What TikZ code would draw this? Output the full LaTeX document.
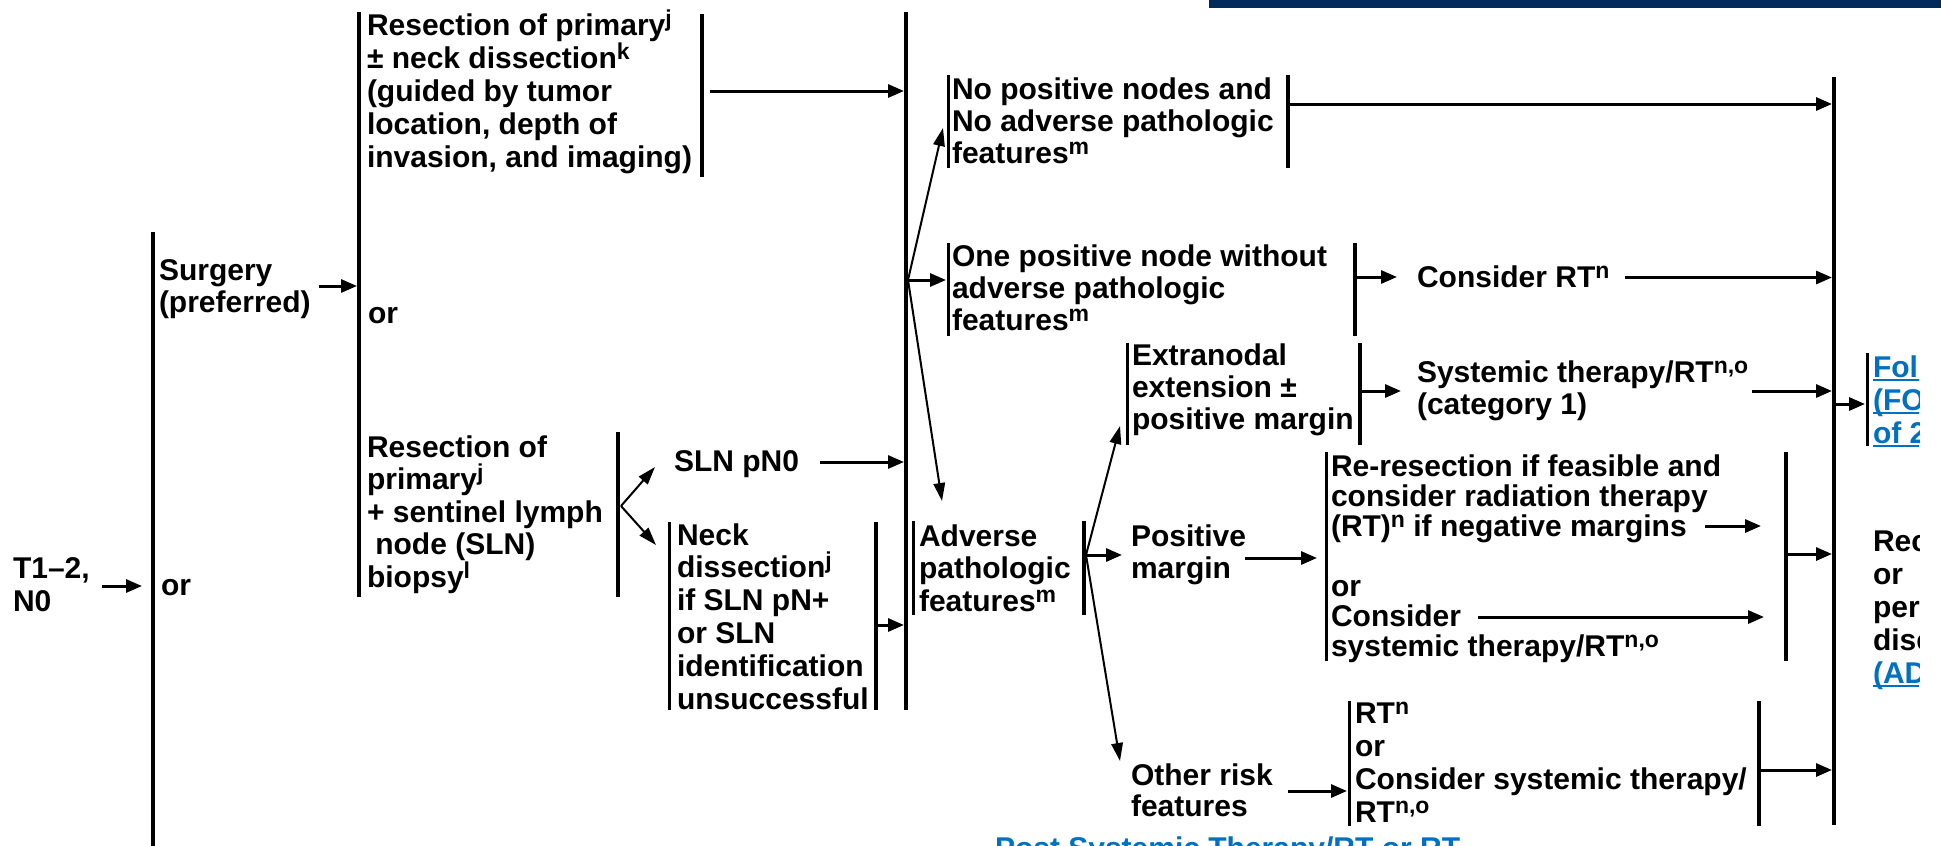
\documentclass[tikz,border=0pt]{standalone}
\usepackage{fontspec}
\setmainfont{Liberation Sans}
\usetikzlibrary{arrows.meta}
\definecolor{navy}{RGB}{0,42,92}
\definecolor{link}{RGB}{0,112,192}
\newcommand{\supr}[1]{\raisebox{9pt}{\fontsize{23}{23}\selectfont #1}}
\newcommand{\lnk}[1]{\setbox0=\hbox{#1}\rlap{\rule[-3.5pt]{\wd0}{2pt}}\box0}
\begin{document}
\begin{tikzpicture}[x=1pt,y=-1pt,
  txt/.style={anchor=base west, inner sep=0pt, outer sep=0pt, align=left},
  lsk/.style={font=\bfseries\fontsize{30}{#1}\selectfont},
  lbar/.style={line width=3pt},
  rbar/.style={line width=3.6pt},
  bigbar/.style={line width=4pt},
  arr/.style={line width=3pt, -{Triangle[length=16pt,width=13pt]}},
  darr/.style={line width=2pt, -{Triangle[length=18pt,width=11.5pt]}}]
\useasboundingbox (0,0) rectangle (1941,846);
\fill[white] (0,0) rectangle (1941,846);
\fill[navy] (1209,0) rectangle (1941,7.5);

% ---------- texts (anchor = baseline of the last line) ----------
\node[txt,lsk=33] (t12) at (13,611) {T1–2,\\N0};
\node[txt,lsk=32] (surg) at (159,312) {Surgery\\(preferred)};
\node[txt,lsk=32] (orS) at (161,595) {or};
\node[txt,lsk=33] (resA) at (367,167) {Resection of primary\supr{j}\\± neck dissection\supr{k}\\(guided by tumor\\location, depth of\\invasion, and imaging)};
\node[txt,lsk=32] (orA) at (368,323) {or};
\node[txt,lsk=32.5] (resB) at (367,587) {Resection of\\primary\supr{j}\\+ sentinel lymph\\\hspace*{8.3pt}node (SLN)\\biopsy\supr{l}};
\node[txt,lsk=32] (sln) at (674,471) {SLN pN0};
\node[txt,lsk=32.8] (neck) at (677,709) {Neck\\dissection\supr{j}\\if SLN pN+\\or SLN\\identification\\unsuccessful};
\node[txt,lsk=32] (nopos) at (952,163) {No positive nodes and\\No adverse pathologic\\features\supr{m}};
\node[txt,lsk=32] (onepos) at (952,330) {One positive node without\\adverse pathologic\\features\supr{m}};
\node[txt,lsk=32] (extra) at (1132,429) {Extranodal\\extension ±\\positive margin};
\node[txt,lsk=32] (cons) at (1417,287) {Consider RT\supr{n}};
\node[txt,lsk=32] (syst) at (1417,414) {Systemic therapy/RT\supr{n,o}\\(category 1)};
\node[txt,lsk=32.3] (adv) at (919,611) {Adverse\\pathologic\\features\supr{m}};
\node[txt,lsk=32.5] (posm) at (1131,578.5) {Positive\\margin};
\node[txt,lsk=31.7] (other) at (1131,816.7) {Other risk\\features};
\node[txt,lsk=30] (reres) at (1331,656) {Re-resection if feasible and\\consider radiation therapy\\(RT)\supr{n} if negative margins\\[30pt]or\\Consider\\systemic therapy/RT\supr{n,o}};
\node[txt,lsk=33] (rtbox) at (1355,822) {RT\supr{n}\\or\\Consider systemic therapy/\\RT\supr{n,o}};
\begin{scope}
\clip (0,0) rectangle (1919,846);
\node[txt,lsk=33,text=link] (fol) at (1873,443) {\lnk{Follow-up}\\\lnk{(FOLL-A}\\\lnk{of 2)}};
\node[txt,lsk=33] (rec) at (1873,683) {Recurrence\\or\\persistent\\disease\\\textcolor{link}{\lnk{(ADV-1)}}};
\node[txt,lsk=32,text=link] (post) at (995,858) {Post Systemic Therapy/RT or RT};
\end{scope}

% ---------- bars ----------
\draw[bigbar] (153,232) -- (153,850);
\draw[bigbar] (359,12) -- (359,597);
\draw[bigbar] (702,14) -- (702,177);
\draw[bigbar] (906,12) -- (906,710);
\draw[rbar] (618,432) -- (618,597);
\draw[lbar] (669,522) -- (669,710);
\draw[rbar] (876,522) -- (876,710);
\draw[lbar] (913,521) -- (913,615);
\draw[rbar] (1084,521) -- (1084,615);
\draw[lbar] (948,75) -- (948,168);
\draw[rbar] (1288,75) -- (1288,168);
\draw[lbar] (948,243) -- (948,336);
\draw[rbar] (1355,243) -- (1355,336);
\draw[lbar] (1127,343) -- (1127,445);
\draw[rbar] (1360,343) -- (1360,445);
\draw[lbar] (1326,452) -- (1326,661);
\draw[rbar] (1786,452) -- (1786,661);
\draw[lbar] (1349,701) -- (1349,826);
\draw[rbar] (1759,701) -- (1759,826);
\draw[line width=3.2pt] (1834,77) -- (1834,825);
\draw[lbar] (1867,353) -- (1867,446);

% ---------- connector points ----------
\coordinate (c1s) at (102,586);  \coordinate (c1e) at (142,586);
\coordinate (c2s) at (319,286);  \coordinate (c2e) at (357,286);
\coordinate (c3s) at (710,91);   \coordinate (c3e) at (904,91);
\coordinate (c4s) at (820,462);  \coordinate (c4e) at (904,462);
\coordinate (c5s) at (878,625);  \coordinate (c5e) at (904,625);
\coordinate (fB) at (621,506);   \coordinate (fBu) at (655,467); \coordinate (fBd) at (656,545);
\coordinate (f3) at (908,280);   \coordinate (f3u) at (943,128); \coordinate (f3h) at (946,280); \coordinate (f3d) at (942,501);
\coordinate (c6s) at (1290,104); \coordinate (c6e) at (1832,104);
\coordinate (c7s) at (1357,277); \coordinate (c7e) at (1397,277);
\coordinate (c8s) at (1625,277.5); \coordinate (c8e) at (1832,277.5);
\coordinate (c9s) at (1362,391); \coordinate (c9e) at (1401,391);
\coordinate (c10s) at (1752,391); \coordinate (c10e) at (1832,391);
\coordinate (c11s) at (1836,404); \coordinate (c11e) at (1865,404);
\coordinate (fA) at (1086,555);  \coordinate (fAu) at (1120,426); \coordinate (fAh) at (1122,555); \coordinate (fAd) at (1120,761);
\coordinate (c12s) at (1245,558); \coordinate (c12e) at (1317,558);
\coordinate (c13s) at (1705,526); \coordinate (c13e) at (1761,526);
\coordinate (c14s) at (1478,617); \coordinate (c14e) at (1764,617);
\coordinate (c15s) at (1788,554); \coordinate (c15e) at (1832,554);
\coordinate (c16s) at (1288,791); \coordinate (c16e) at (1347,791);
\coordinate (c17s) at (1761,770); \coordinate (c17e) at (1832,770);

% ---------- connectors ----------
\draw[arr] (c1s) -- (c1e);
\draw[arr] (c2s) -- (c2e);
\draw[arr] (c3s) -- (c3e);
\draw[arr] (c4s) -- (c4e);
\draw[arr] (c5s) -- (c5e);
\draw[darr] (fB) -- (fBu);
\draw[darr] (fB) -- (fBd);
\draw[darr] (f3) -- (f3u);
\draw[arr] (f3) -- (f3h);
\draw[darr] (f3) -- (f3d);
\draw[arr] (c6s) -- (c6e);
\draw[arr] (c7s) -- (c7e);
\draw[arr] (c8s) -- (c8e);
\draw[arr] (c9s) -- (c9e);
\draw[arr] (c10s) -- (c10e);
\draw[arr] (c11s) -- (c11e);
\draw[darr] (fA) -- (fAu);
\draw[arr] (fA) -- (fAh);
\draw[darr] (fA) -- (fAd);
\draw[arr] (c12s) -- (c12e);
\draw[arr] (c13s) -- (c13e);
\draw[arr] (c14s) -- (c14e);
\draw[arr] (c15s) -- (c15e);
\draw[arr] (c16s) -- (c16e);
\draw[arr] (c17s) -- (c17e);
\end{tikzpicture}
\end{document}
